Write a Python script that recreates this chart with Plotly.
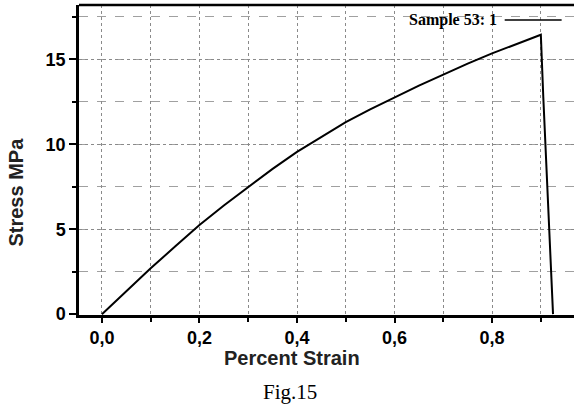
import plotly.graph_objects as go

strain = [0.0, 0.05, 0.1, 0.15, 0.2, 0.25, 0.3, 0.35, 0.4, 0.45, 0.5, 0.55, 0.6, 0.65, 0.7,
          0.75, 0.8, 0.85, 0.9, 0.905, 0.925]
stress = [0.0, 1.36, 2.7, 3.98, 5.25, 6.4, 7.5, 8.55, 9.55, 10.45, 11.3, 12.05, 12.75, 13.45, 14.1,
          14.75, 15.35, 15.9, 16.45, 12.8, 0.0]

series_name = "Sample 53: 1"
x_ticks = [0.0, 0.2, 0.4, 0.6, 0.8]
y_ticks = [0, 5, 10, 15]

fig = go.Figure()
fig.add_trace(go.Scatter(x=strain, y=stress, mode="lines",
                         line=dict(color="black", width=2),
                         name=series_name, showlegend=False))

tick_font = dict(family="Liberation Sans, Arial", size=18, color="black", weight="bold")
title_font = dict(family="Liberation Sans, Arial", size=20, color="#222222", weight="bold")
serif = "Liberation Serif, Times New Roman"

fig.update_layout(
    width=574, height=410,
    margin=dict(l=79, r=0, t=5, b=95),
    paper_bgcolor="white", plot_bgcolor="white",
    separators=",.",
    showlegend=False,
    xaxis=dict(range=[-0.047, 0.968], tickvals=x_ticks, tickformat=".1f", automargin=False,
               showline=True, linecolor="black", linewidth=2.5, mirror=False,
               ticks="outside", ticklen=5, tickwidth=2, tickcolor="black",
               showgrid=True, gridcolor="#8a8a8a", griddash="dot", gridwidth=1,
               minor=dict(dtick=0.1, tick0=0, ticks="outside", ticklen=4, tickwidth=2, tickcolor="black",
                          showgrid=True, gridcolor="#8a8a8a", griddash="dot", gridwidth=1),
               tickfont=tick_font, zeroline=False),
    yaxis=dict(range=[-0.05, 18.2], tickvals=y_ticks, automargin=False,
               showline=True, linecolor="black", linewidth=2.5,
               ticks="outside", ticklen=7, tickwidth=2, tickcolor="black",
               showgrid=True, gridcolor="#8a8a8a", griddash="dot", gridwidth=1,
               minor=dict(dtick=2.5, tick0=0, ticks="outside", ticklen=4, tickwidth=2, tickcolor="black",
                          showgrid=True, gridcolor="#a0a0a0", griddash="dash", gridwidth=1),
               tickfont=tick_font, zeroline=False),
)

# top border of plot frame
fig.add_shape(type="line", xref="paper", yref="paper", x0=0, x1=1, y0=1, y1=1,
              line=dict(color="black", width=2.5))

# axis titles
fig.add_annotation(text="Percent Strain", xref="paper", yref="paper", x=0.43, y=-0.139,
                   xanchor="center", yanchor="middle", showarrow=False, font=title_font)
fig.add_annotation(text="Stress MPa", xref="paper", yref="paper", x=-0.128, y=0.397,
                   xanchor="center", yanchor="middle", showarrow=False, textangle=-90, font=title_font)

# legend-like label
fig.add_shape(type="line", xref="paper", yref="paper", x0=0.86, x1=0.975, y0=0.952, y1=0.952,
              line=dict(color="black", width=1.5))
fig.add_annotation(text="<b>" + series_name + "</b>", xref="paper", yref="paper", x=0.662, y=0.952,
                   xanchor="left", yanchor="middle", showarrow=False,
                   font=dict(family=serif, size=16, color="black"))

fig.add_annotation(text="Fig.15", xref="paper", yref="paper", x=0.426, y=-0.248,
                   xanchor="center", yanchor="middle", showarrow=False,
                   font=dict(family=serif, size=21, color="black"))

fig.write_html("out.html", config={"displayModeBar": False},
               post_script="document.body.style.margin='0';document.body.style.padding='0';")
